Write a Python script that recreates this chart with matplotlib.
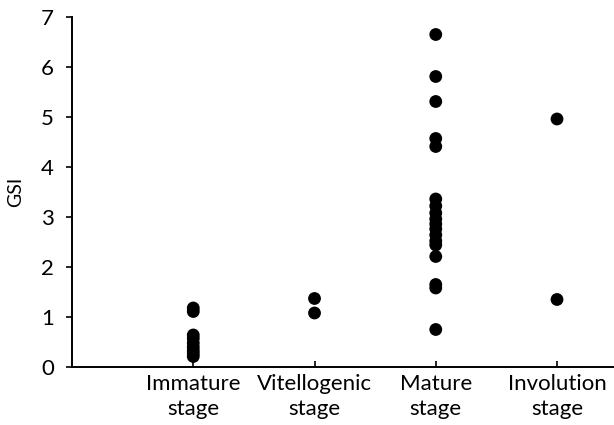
import matplotlib
matplotlib.use("Agg")
import matplotlib.pyplot as plt

plt.rcParams['font.family'] = ['Lato', 'DejaVu Sans']

# GSI values, one list per stage
stages = ["Immature\nstage", "Vitellogenic\nstage", "Mature\nstage", "Involution\nstage"]
immature = [1.18, 1.11, 0.64, 0.57, 0.48, 0.40, 0.33, 0.27, 0.21]
vitellogenic = [1.37, 1.08]
mature = [6.65, 5.81, 5.31, 4.57, 4.41, 3.36, 3.22, 3.08, 2.96, 2.86,
          2.76, 2.64, 2.52, 2.44, 2.21, 1.65, 1.58, 0.75]
involution = [4.96, 1.35]

groups = [immature, vitellogenic, mature, involution]

fig = plt.figure(figsize=(6.14, 4.25), dpi=100)
ax = fig.add_axes([0.1173, 0.1365, 0.8827, 0.8235])

for i, vals in enumerate(groups):
    ax.scatter([i + 1] * len(vals), vals, s=85, color='black', edgecolors='none', zorder=3)

ax.set_xlim(0, 4.47)
ax.set_ylim(0, 7)
ax.set_yticks(range(0, 8))
ax.set_xticks([1, 2, 3, 4])
ax.set_xticklabels(stages, fontsize=16, linespacing=1.3)
ax.tick_params(axis='y', direction='out', length=4, width=1.2, labelsize=16, pad=9)
ax.tick_params(axis='x', direction='in', length=4, width=1.2, pad=5)
ax.set_ylabel('GSI', fontsize=14, labelpad=12)

for side in ['top', 'right']:
    ax.spines[side].set_visible(False)
for side in ['left', 'bottom']:
    ax.spines[side].set_linewidth(1.4)

fig.savefig('out.png', dpi=100)
